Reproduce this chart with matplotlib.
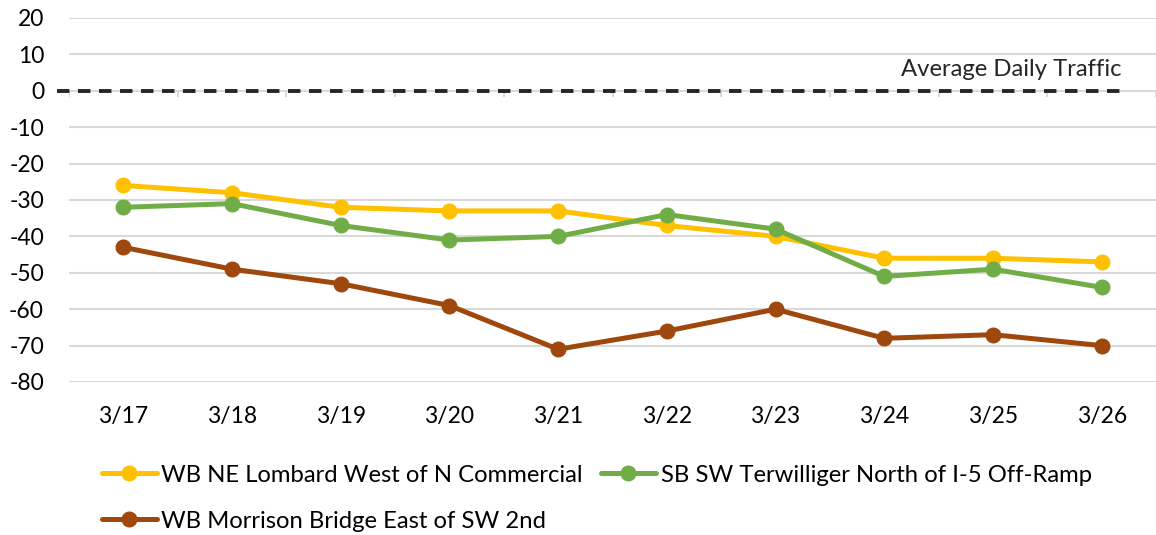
import matplotlib
matplotlib.use("Agg")
import matplotlib.pyplot as plt

dates = ["3/17", "3/18", "3/19", "3/20", "3/21", "3/22", "3/23", "3/24", "3/25", "3/26"]
lombard = [-26, -28, -32, -33, -33, -37, -40, -46, -46, -47]
terwilliger = [-32, -31, -37, -41, -40, -34, -38, -51, -49, -54]
morrison = [-43, -49, -53, -59, -71, -66, -60, -68, -67, -70]
names = ["WB NE Lombard West of N Commercial",
         "SB SW Terwilliger North of I-5 Off-Ramp",
         "WB Morrison Bridge East of SW 2nd"]
colors = ["#FFC000", "#70AD47", "#9E480E"]
yticks = list(range(-80, 21, 10))

plt.rcParams['font.family'] = ['Lato', 'DejaVu Sans']
fs = 16.5
fs2 = 17.2

fig = plt.figure(figsize=(11.56, 5.35), dpi=100)
W, H = 1156, 535
ax = fig.add_axes([69 / W, 1 - 382 / H, 1087 / W, 364 / H])

x = list(range(len(dates)))
handles = []
for vals, c, n in zip([lombard, terwilliger, morrison], colors, names):
    h, = ax.plot(x, vals, color=c, lw=3.6, marker='o', ms=10.5, label=n,
                 solid_capstyle='round', zorder=3)
    handles.append(h)

ax.set_xlim(-0.5, len(dates) - 0.5)
ax.set_ylim(-80, 20)
ax.set_yticks(yticks)
ax.set_yticklabels([str(v) for v in yticks])
ax.set_xticks(x)
ax.set_xticklabels(dates)
ax.tick_params(axis='both', length=0, labelsize=fs, colors='black')
ax.tick_params(axis='y', pad=18)
ax.tick_params(axis='x', pad=17)
for s in ax.spines.values():
    s.set_visible(False)
ax.grid(axis='y', color='#D9D9D9', lw=1.5, zorder=0)

# category boundary tick marks at the 0 axis
bounds = [i - 0.5 for i in range(len(dates) + 1)]
ax.vlines(bounds, -1.7, 0, color='#D9D9D9', lw=1.5, zorder=1)

# average daily traffic reference line
ax.axhline(0, xmin=-0.011, xmax=0.968, color='#262626', lw=2.8,
           ls=(0, (3.2, 2.2)), clip_on=False, zorder=2)
ax.text(0.968, 3.0, "Average Daily Traffic", transform=ax.get_yaxis_transform(),
        ha='right', va='bottom', fontsize=fs2, color='#262626')

leg = fig.legend([handles[0], handles[2], handles[1]],
                 [names[0], names[2], names[1]],
                 ncol=2, loc='upper left', bbox_to_anchor=(92 / W, 1 - 455 / H),
                 frameon=False, fontsize=fs2, handlelength=2.3, handletextpad=0.2,
                 columnspacing=0.75, labelspacing=1.05, borderaxespad=0)

fig.savefig("out.png", dpi=100)
